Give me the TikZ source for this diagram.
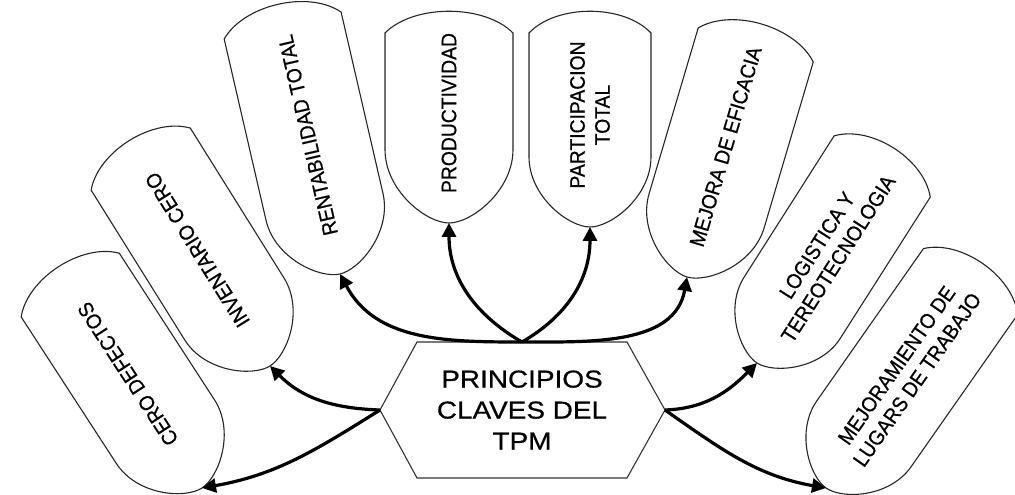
\documentclass[tikz,border=0pt]{standalone}
\usepackage{fontspec}
\setmainfont{Liberation Sans}
\newfontfamily\hubfont[FakeStretch=1.14,FakeBold=0.6]{Liberation Sans}
\newfontfamily\petalfont[FakeStretch=0.92,FakeBold=0.6]{Liberation Sans}
\usetikzlibrary{arrows.meta,calc}

\tikzset{
  petal/.style={draw=black!85, line width=1.1pt, fill=white},
  petaltext/.style={font=\petalfont\fontsize{21}{25}\selectfont, align=center, inner sep=0pt},
  hubtext/.style={font=\hubfont\fontsize{24.5}{31}\selectfont, align=center, inner sep=0pt},
  hexline/.style={draw=black!80, line width=1.1pt, fill=white},
  link/.style={line width=3.2pt, black, -{Triangle[length=14pt,width=14pt]}}
}

% One rounded petal: #1 tip coordinate, #2 axis angle, #3 distance from the tip
% to the outer corners, #4 half width, #5 text node name, #6 text
\newcommand{\tpmpetal}[6]{%
  \begin{scope}[shift={(#1)}, rotate={#2-90}]
    \draw[petal] (-#4,{1.15*#4}) -- (-#4,#3)
      .. controls ({-0.55*#4},{#3+29}) and ({0.55*#4},{#3+29}) .. (#4,#3)
      -- (#4,{1.15*#4})
      .. controls (#4,{0.5*#4}) and ({0.35*#4},0) .. (0,0)
      .. controls ({-0.35*#4},0) and (-#4,{0.5*#4}) .. cycle;
    \node[petaltext, rotate=#2] (#5) at (0,{(#3+22)/2+4}) {#6};
  \end{scope}}

\begin{document}
\begin{tikzpicture}[x=1pt,y=1pt]
  \useasboundingbox (0,0) rectangle (1015,495);
  \clip (0,0) rectangle (1015,495);

  % petal tips, where the arrows land
  \coordinate (tipCD) at (202,7);
  \coordinate (tipIC) at (270,129);
  \coordinate (tipRT) at (340,221);
  \coordinate (tipPR) at (449,272);
  \coordinate (tipPT) at (590,268);
  \coordinate (tipME) at (687,218);
  \coordinate (tipLT) at (757,132);
  \coordinate (tipML) at (826,7);

  \tpmpetal{tipCD}{123}{242}{58.5}{cd}{CERO DEFECTOS}
  \tpmpetal{tipIC}{122}{244}{58.5}{ic}{INVENTARIO CERO}
  \tpmpetal{tipRT}{103}{255}{60}{rt}{RENTABILIDAD TOTAL}
  \tpmpetal{tipPR}{90}{190}{64}{pr}{PRODUCTIVIDAD}
  \tpmpetal{tipPT}{90}{194}{61}{pt}{PARTICIPACION\\TOTAL}
  \tpmpetal{tipME}{73.5}{242}{60}{me}{MEJORA DE EFICACIA}
  \tpmpetal{tipLT}{57.5}{233}{57}{lt}{LOGISTICA Y\\TEREOTECNOLOGIA}
  \tpmpetal{tipML}{55}{252}{57.5}{ml}{MEJORAMIENTO DE\\LUGARS DE TRABAJO}

  % central hexagon around the title
  \coordinate (hubC)  at (522,85);
  \coordinate (hubW)  at ($(hubC)+(-142,0)$);
  \coordinate (hubE)  at ($(hubC)+(143,0)$);
  \coordinate (hubNW) at ($(hubC)+(-105,68)$);
  \coordinate (hubNE) at ($(hubC)+(105,68)$);
  \coordinate (hubSW) at ($(hubC)+(-105,-68)$);
  \coordinate (hubSE) at ($(hubC)+(105,-68)$);
  \coordinate (hubN)  at ($(hubC)+(0,68)$);
  \draw[hexline] (hubW) -- (hubNW) -- (hubNE) -- (hubE) -- (hubSE) -- (hubSW) -- cycle;
  \node[hubtext] (hub) at (hubC) {PRINCIPIOS\\CLAVES DEL\\TPM};

  % arrows from the hexagon to each principle
  \draw[link] (hubN) to[out=180, in=-62] (tipRT);
  \draw[link] (hubN) to[out=150, in=-90] (tipPR);
  \draw[link] (hubN) to[out=30, in=-90] (tipPT);
  \draw[link] (hubN) to[out=0, in=-100] (tipME);
  \draw[link] (hubW) to[out=178, in=-45] (tipIC);
  \draw[link] (hubW) to[out=212, in=10] (tipCD);
  \draw[link] (hubE) to[out=2, in=-135] (tipLT);
  \draw[link] (hubE) to[out=-35, in=170] (tipML);
\end{tikzpicture}
\end{document}
